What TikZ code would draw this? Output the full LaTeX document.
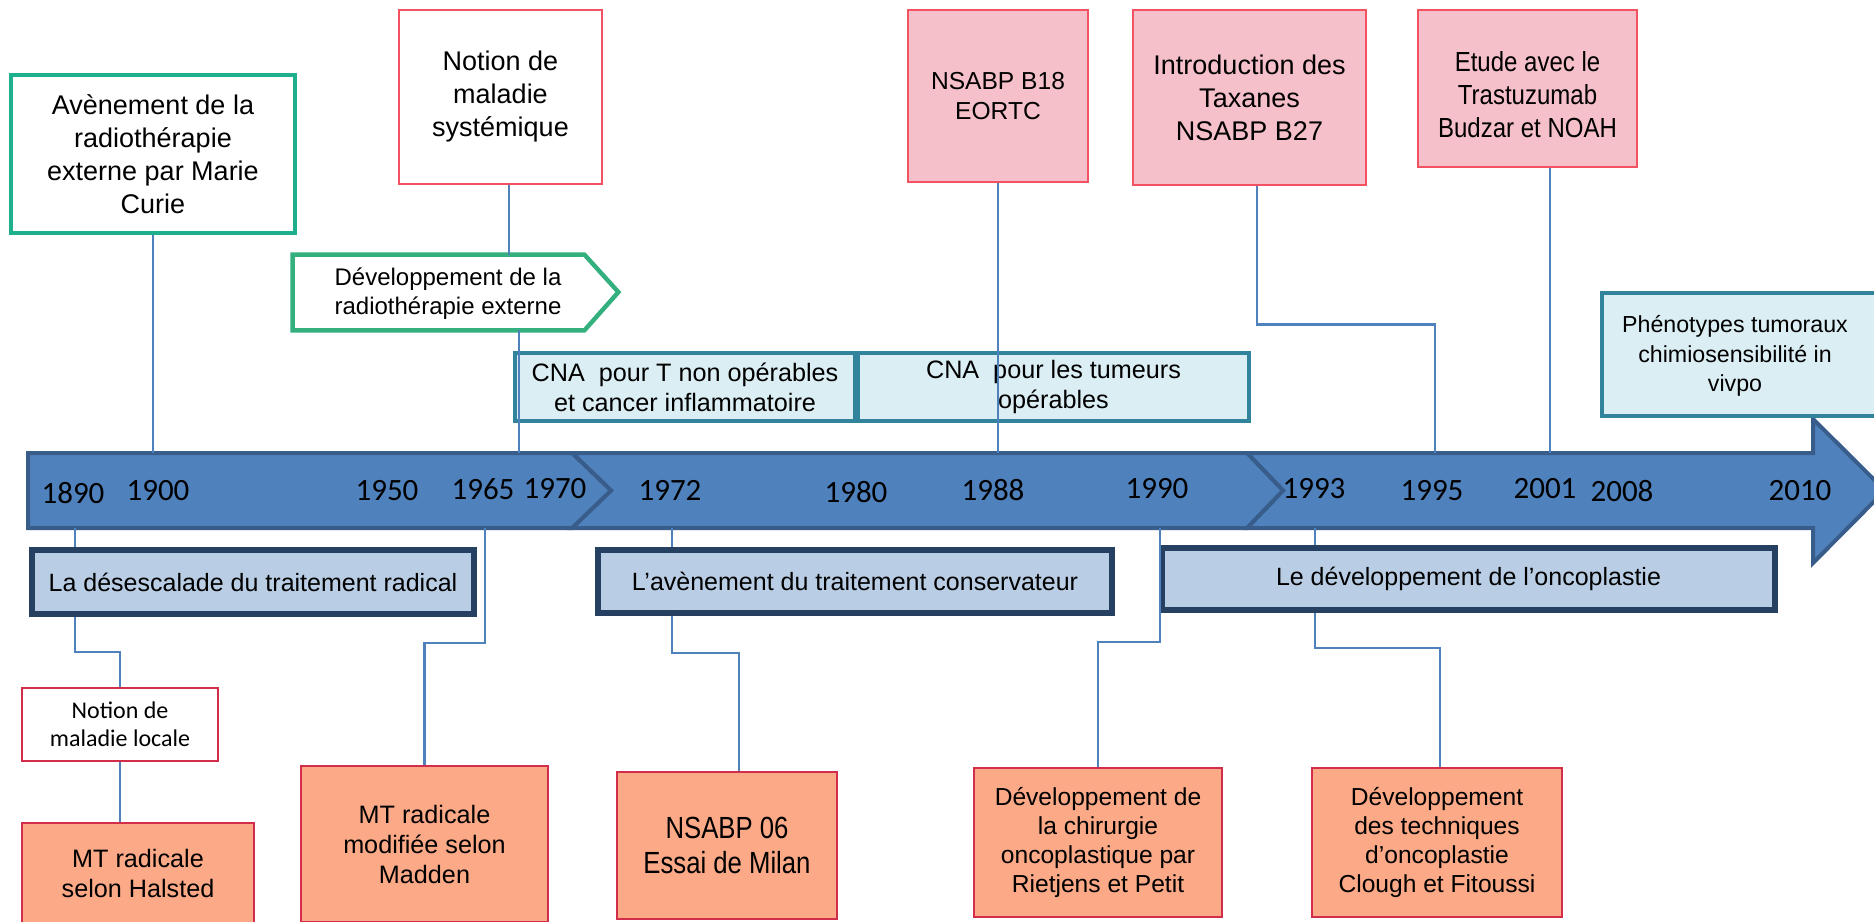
\documentclass[tikz,border=0pt]{standalone}
\usepackage{fontspec}
\setmainfont{Liberation Sans}
\newfontfamily\carlito{Carlito}
\newfontfamily\narrowA[FakeStretch=0.87]{Liberation Sans}
\newfontfamily\narrowB[FakeStretch=0.84]{Liberation Sans}
\definecolor{greenA}{RGB}{30,176,140}
\definecolor{greenB}{RGB}{52,176,126}
\definecolor{pinkfill}{RGB}{245,192,201}
\definecolor{pinkline}{RGB}{243,82,98}
\definecolor{cnafill}{RGB}{219,238,244}
\definecolor{cnaline}{RGB}{49,132,155}
\definecolor{tlfill}{RGB}{79,129,189}
\definecolor{tlline}{RGB}{56,93,138}
\definecolor{bandfill}{RGB}{185,205,228}
\definecolor{bandline}{RGB}{38,64,97}
\definecolor{salmon}{RGB}{251,169,134}
\definecolor{botline}{RGB}{210,45,75}
\definecolor{connc}{RGB}{79,129,189}
\newcommand\fsA{\fontsize{13.5}{16.5}\selectfont}
\newcommand\fsEt{\narrowA\fontsize{13.8}{16.5}\selectfont}
\newcommand\fsB{\fontsize{12.3}{15}\selectfont}
\newcommand\fsC{\fontsize{12.6}{15}\selectfont}
\newcommand\fsP{\fontsize{12}{14.5}\selectfont}
\newcommand\fsPh{\fontsize{11.6}{14.75}\selectfont}
\newcommand\fsBand{\fontsize{12.5}{15}\selectfont}
\newcommand\fsLoc{\carlito\fontsize{12}{14}\selectfont}
\newcommand\fsBot{\fontsize{12.6}{15}\selectfont}
\newcommand\fsBotB{\fontsize{12.3}{14.5}\selectfont}
\newcommand\fsBig{\narrowB\fontsize{15.3}{17.5}\selectfont}
\newcommand\fsYear{\carlito\fontsize{15.5}{18}\selectfont}
\tikzset{
  base/.style={rectangle, inner sep=0pt, align=center, text=black},
  greenbox/.style={base, draw=greenA, line width=2pt, fill=white, font=\fsA},
  redbox/.style={base, draw=pinkline, line width=1.3pt, fill=white, font=\fsA},
  pinkbox/.style={base, draw=pinkline, line width=1.4pt, fill=pinkfill},
  cnabox/.style={base, draw=cnaline, line width=2.2pt, fill=cnafill},
  bandbox/.style={base, draw=bandline, line width=2.6pt, fill=bandfill, font=\fsBand},
  locbox/.style={base, draw=botline, line width=1.3pt, fill=white, font=\fsLoc},
  botbox/.style={base, draw=botline, line width=1.4pt, fill=salmon},
  tlseg/.style={fill=tlfill, draw=tlline, line width=2pt, line join=miter},
  yearlbl/.style={inner sep=0pt, font=\fsYear, text=black},
  conn/.style={draw=connc, line width=1.1pt},
  pentline/.style={draw=greenB, line width=2.2pt, line join=miter, fill=white}
}
\begin{document}
\begin{tikzpicture}[x=0.5pt, y=-0.5pt]
\useasboundingbox (0,0) rectangle (1874,921);
\fill[white] (0,0) rectangle (1874,921);

% timeline
\path[tlseg] (1247,453) -- (1813,453) -- (1813,419) -- (1885,490.5) -- (1813,563) -- (1813,528) -- (1247,528) -- (1283,490.5) -- cycle;
\path[tlseg] (572,453) -- (1247,453) -- (1283,490.5) -- (1247,528) -- (572,528) -- (611,490.5) -- cycle;
\path[tlseg] (28,453) -- (572,453) -- (611,490.5) -- (572,528) -- (28,528) -- cycle;
\coordinate (tltop) at (0,453);
\coordinate (tlbot) at (0,528);

% years
\node[yearlbl] (y1890) at (73,493) {1890};
\node[yearlbl] (y1900) at (158,491) {1900};
\node[yearlbl] (y1950) at (387,491) {1950};
\node[yearlbl] (y1965) at (483,489) {1965};
\node[yearlbl] (y1970) at (555,489) {1970};
\node[yearlbl] (y1972) at (670,490) {1972};
\node[yearlbl] (y1980) at (856,492) {1980};
\node[yearlbl] (y1988) at (993,490) {1988};
\node[yearlbl] (y1990) at (1157,489) {1990};
\node[yearlbl] (y1993) at (1314,489) {1993};
\node[yearlbl] (y1995) at (1432,491) {1995};
\node[yearlbl] (y2001) at (1545,489) {2001};
\node[yearlbl] (y2008) at (1622,491) {2008};
\node[yearlbl] (y2010) at (1800,491) {2010};

% top boxes
\node[greenbox, minimum width=142pt, minimum height=79pt] (avn) at (153,154) {Avènement de la\\radiothérapie\\externe par Marie\\Curie};
\node[redbox, minimum width=101.5pt, minimum height=87pt] (nsys) at (500.5,97) {Notion de\\maladie\\systémique};
\node[base, minimum width=145.5pt, minimum height=37.5pt] (pent) at (438.5,292.5) {};
\path[pentline] (pent.north west) -- (pent.north east) -- ++(34,37.5) -- (pent.south east) -- (pent.south west) -- cycle;
\node[base, font=\fsP] (pentlbl) at (448,294) {Développement de la\\radiothérapie externe};
\node[cnabox, font=\fsC, minimum width=170pt, minimum height=34pt] (cna1) at (685,387) {CNA\ \ pour T non opérables\\et cancer inflammatoire};
\node[cnabox, font=\fsC, minimum width=195.5pt, minimum height=34pt] (cna2) at (1053.5,387) {CNA\ \ pour les tumeurs\\opérables};
\node[pinkbox, font=\fsB, minimum width=90pt, minimum height=86pt] (b18) at (998,96) {NSABP B18\\EORTC};
\node[pinkbox, font=\fsA, minimum width=116.5pt, minimum height=87.5pt] (tax) at (1249.5,97.5) {Introduction des\\Taxanes\\NSABP B27};
\node[pinkbox, minimum width=109.5pt, minimum height=78.5pt] (etu) at (1527.5,88.5) {};
\node[base, font=\fsEt] (etulbl) at (1527.5,95) {Etude avec le\\Trastuzumab\\Budzar et NOAH};
\node[cnabox, minimum width=143pt, minimum height=61.5pt] (phe) at (1745,354.5) {};
\node[base, font=\fsPh] (phelbl) at (1735,356) {Phénotypes tumoraux\\chimiosensibilité in\\vivpo};

% bands
\node[bandbox, minimum width=221pt, minimum height=32pt] (band1) at (253,582) {La désescalade du traitement radical};
\node[bandbox, minimum width=257pt, minimum height=31.5pt] (band2) at (855,581.5) {L’avènement du traitement conservateur};
\node[bandbox, minimum width=306.5pt, minimum height=31pt] (band3) at (1468.5,579) {Le développement de l’oncoplastie};

% bottom boxes
\node[locbox, minimum width=98pt, minimum height=36.5pt] (loc) at (120,724.5) {Notion de\\maladie locale};
\node[botbox, font=\fsBot, minimum width=116pt, minimum height=50pt] (hal) at (138,873) {MT radicale\\selon Halsted};
\node[botbox, font=\fsBot, minimum width=123.5pt, minimum height=78pt] (mad) at (424.5,844) {MT radicale\\modifiée selon\\Madden};
\node[botbox, font=\fsBig, minimum width=110pt, minimum height=73.5pt] (n06) at (727,845.5) {NSABP 06\\Essai de Milan};
\node[botbox, font=\fsBotB, minimum width=124pt, minimum height=74.5pt] (chi) at (1098,842.5) {Développement de\\la chirurgie\\oncoplastique par\\Rietjens et Petit};
\node[botbox, font=\fsBotB, minimum width=125pt, minimum height=74.5pt] (clo) at (1437,842.5) {Développement\\des techniques\\d’oncoplastie\\Clough et Fitoussi};

% connector anchor points
\coordinate (cns) at (509,0);
\coordinate (ctax) at (1257,0);
\coordinate (cetu) at (1550,0);
\coordinate (c06) at (739,0);
\coordinate (cclo) at (1440,0);
\coordinate (p1970) at (519,453);
\coordinate (t1995) at (1435,453);
\coordinate (b1890) at (75,528);
\coordinate (b1965) at (485,528);
\coordinate (b1972) at (672,528);
\coordinate (b1990) at (1160,528);
\coordinate (b1993) at (1315,528);

% top connectors
\draw[conn] (avn.south) -- (avn.south |- tltop);
\draw[conn] (cns |- nsys.south) -- (cns |- pent.north);
\draw[conn] (p1970 |- pent.south) -- (p1970);
\draw[conn] (b18.south) -- (b18.south |- tltop);
\draw[conn] (ctax |- tax.south) -- ++(0,138) -| (t1995);
\draw[conn] (cetu |- etu.south) -- (cetu |- tltop);

% bottom connectors
\draw[conn] (b1890) -- (b1890 |- band1.north);
\draw[conn] (b1890 |- band1.south) -- ++(0,35) -| (loc.north);
\draw[conn] (loc.south) -- (loc.south |- hal.north);
\draw[conn] (b1965) -- ++(0,115) -| (mad.north);
\draw[conn] (b1972) -- (b1972 |- band2.north);
\draw[conn] (b1972 |- band2.south) -- ++(0,37) -| (c06 |- n06.north);
\draw[conn] (b1990) -- ++(0,114) -| (chi.north);
\draw[conn] (b1993) -- (b1993 |- band3.north);
\draw[conn] (b1993 |- band3.south) -- ++(0,35) -| (cclo |- clo.north);
\end{tikzpicture}
\end{document}
